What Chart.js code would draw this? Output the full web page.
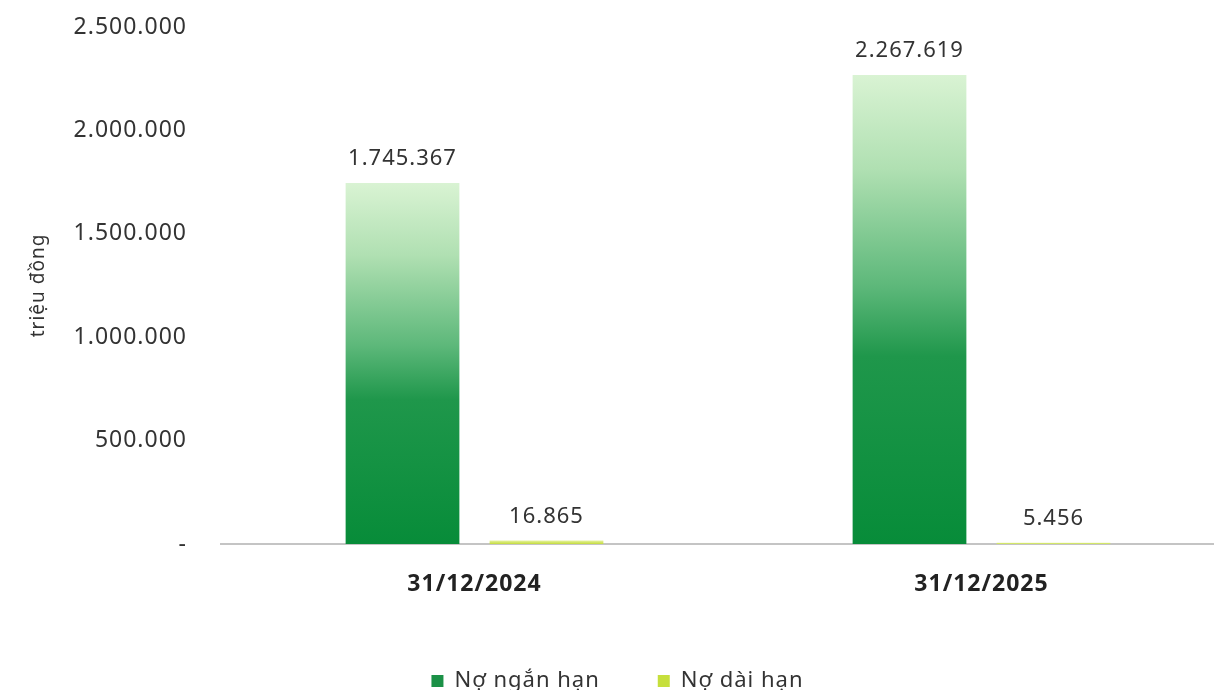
<!DOCTYPE html>
<html>
<head>
<meta charset="utf-8">
<script src="https://cdn.jsdelivr.net/npm/chart.js@4.4.1/dist/chart.umd.min.js"></script>
<style>
  html, body { margin: 0; padding: 0; background: #fff; overflow: hidden; }
  #wrap { position: relative; width: 1235px; height: 702px; }
</style>
</head>
<body>
<div id="wrap"><canvas id="chart"></canvas></div>
<script>
// data
const categories = ["31/12/2024", "31/12/2025"];
const shortTerm = [1745367, 2267619];
const longTerm = [16865, 5456];
const seriesNames = ["Nợ ngắn hạn", "Nợ dài hạn"];
const yTicks = [0, 500000, 1000000, 1500000, 2000000, 2500000];

const FONT = "'Noto Sans', sans-serif";

function dots(v) {
  return String(Math.round(v)).replace(/\B(?=(\d{3})+(?!\d))/g, ".");
}

// vertical gradient per bar, from bar top down to the axis
function barGradient(stops, fallback) {
  return function (ctx) {
    const chart = ctx.chart;
    if (!chart.chartArea || ctx.raw === undefined) return fallback;
    const y = chart.scales.y;
    const top = y.getPixelForValue(ctx.raw);
    const bottom = y.getPixelForValue(0);
    const g = chart.ctx.createLinearGradient(0, top, 0, bottom);
    stops.forEach((s) => g.addColorStop(s[0], s[1]));
    return g;
  };
}

// the original font is wider, spread the letters a bit
const spacing = {
  id: "spacing",
  beforeUpdate(chart) { chart.ctx.letterSpacing = "1px"; },
  beforeLayout(chart) { chart.ctx.letterSpacing = "1px"; },
  beforeDraw(chart) { chart.ctx.letterSpacing = "1px"; },
};

const valueLabels = {
  id: "valueLabels",
  afterDatasetsDraw(chart) {
    const ctx = chart.ctx;
    ctx.save();
    ctx.letterSpacing = "1px";
    ctx.font = "22px " + FONT;
    ctx.fillStyle = "#333333";
    ctx.textAlign = "center";
    ctx.textBaseline = "middle";
    chart.data.datasets.forEach((ds, i) => {
      chart.getDatasetMeta(i).data.forEach((bar, j) => {
        ctx.fillText(dots(ds.data[j]), bar.x, bar.y - 24);
      });
    });
    ctx.restore();
  },
};

new Chart(document.getElementById("chart"), {
  type: "bar",
  data: {
    labels: categories,
    datasets: [
      {
        label: seriesNames[0],
        data: shortTerm,
        backgroundColor: barGradient(
          [[0, "#d9f3d3"], [0.2, "#b0e0b2"], [0.45, "#5db87a"], [0.6, "#1f974b"], [1, "#078c39"]],
          "#0a8f3c"
        ),
        legendColor: "#1b9147",
      },
      {
        label: seriesNames[1],
        data: longTerm,
        backgroundColor: barGradient([[0, "#e6f2a2"], [1, "#c4dc3c"]], "#c6df3c"),
        legendColor: "#c6df3c",
      },
    ],
  },
  options: {
    responsive: true,
    maintainAspectRatio: false,
    animation: false,
    datasets: {
      bar: { categoryPercentage: 0.568, barPercentage: 0.79 },
    },
    layout: { padding: { top: 27, right: 0, left: 0, bottom: 0 } },
    plugins: {
      tooltip: { enabled: false },
      legend: {
        position: "bottom",
        labels: {
          font: { family: FONT, size: 22 },
          color: "#333333",
          boxWidth: 12,
          boxHeight: 12,
          padding: 58,
          generateLabels(chart) {
            return chart.data.datasets.map((ds, i) => ({
              text: ds.label,
              fillStyle: ds.legendColor,
              strokeStyle: ds.legendColor,
              lineWidth: 0,
              datasetIndex: i,
              fontColor: "#333333",
            }));
          },
        },
      },
    },
    scales: {
      x: {
        grid: { display: false, drawTicks: false },
        border: { display: true, color: "#c4c4c4", width: 2 },
        ticks: {
          padding: 27,
          color: "#222222",
          font: { family: FONT, size: 23, weight: "bold" },
        },
        afterFit(scale) {
          scale.height = 68;
        },
      },
      y: {
        min: 0,
        max: 2500000,
        afterBuildTicks(scale) {
          scale.ticks = yTicks.map((v) => ({ value: v }));
        },
        grid: { display: false, drawTicks: false },
        border: { display: false },
        ticks: {
          padding: 34,
          color: "#333333",
          font: { family: FONT, size: 23 },
          callback: (v) => (v === 0 ? "-" : dots(v)),
        },
        title: {
          display: true,
          text: "triệu đồng",
          color: "#333333",
          font: { family: FONT, size: 19 },
          padding: { top: 27, bottom: 0 },
        },
        afterFit(scale) {
          scale.width = 221;
          // tick padding should not push the plot top down
          scale.paddingTop = 0;
          scale.paddingBottom = 0;
        },
      },
    },
  },
  plugins: [spacing, valueLabels],
});
</script>
</body>
</html>
